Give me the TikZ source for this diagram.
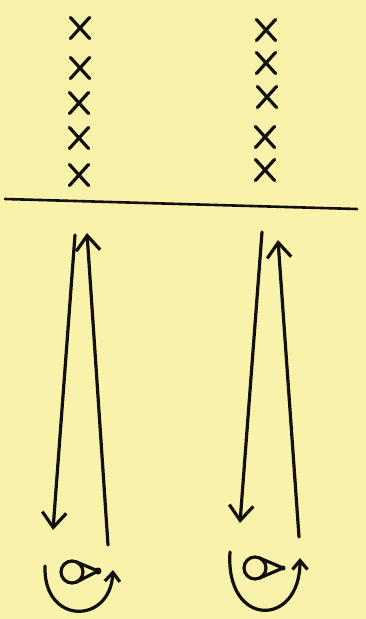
\documentclass[tikz,border=0pt]{standalone}
\usetikzlibrary{arrows.meta,shapes.misc,calc}
\definecolor{paper}{RGB}{249,242,170}
\definecolor{ink}{RGB}{18,16,12}
\begin{document}
\begin{tikzpicture}[x=1pt,y=-1pt,
  pen/.style={draw=ink,line width=3.2pt,line cap=round,line join=round},
  xmark/.style={cross out,draw=ink,line width=3.2pt,line cap=round,minimum width=16pt,minimum height=18pt,inner sep=0pt},
  barb/.style={-{Straight Barb[length=15pt,width=24pt,line width=3.2pt]}},
  arcbarb/.style={-{Straight Barb[length=9pt,width=15pt,line width=3.2pt]}}]
\fill[paper] (0,0) rectangle (366,619);
\useasboundingbox (0,0) rectangle (366,619);
% crosses, left column
\node[xmark] (l1) at (80,28) {};
\node[xmark] (l2) at (80,68) {};
\node[xmark] (l3) at (79,103) {};
\node[xmark] (l4) at (79,138) {};
\node[xmark] (l5) at (79,175) {};
% crosses, right column
\node[xmark] (r1) at (266,30) {};
\node[xmark] (r2) at (266,63) {};
\node[xmark] (r3) at (267,97) {};
\node[xmark] (r4) at (265,137) {};
\node[xmark] (r5) at (265,170) {};
% horizontal line
\coordinate (hl) at (5,199);
\coordinate (hr) at (357,209);
\draw[pen,line width=2.6pt] (hl) -- (hr);
% left pair of arrows
\coordinate (ldt) at (75,235);
\coordinate (ldb) at (53,530);
\coordinate (lub) at (108,545);
\coordinate (lut) at (87,233);
\draw[pen,barb] (ldt) -- (ldb);
\draw[pen,barb] (lub) -- (lut);
% right pair of arrows
\coordinate (rdt) at (262,232);
\coordinate (rdb) at (240,523);
\coordinate (rub) at (299,537);
\coordinate (rut) at (278,240);
\draw[pen,barb] (rdt) -- (rdb);
\draw[pen,barb] (rub) -- (rut);
% left eye
\coordinate (le) at (72,572);
\coordinate (let) at (98,571);
\draw[pen] (le) circle[radius=11];
\draw[pen] (let) -- ($(le)+(65:11)$);
\draw[pen] (let) -- ($(le)+(-65:11)$);
\fill[ink] (let) circle[radius=3.5];
\coordinate (las) at (45,566);
\coordinate (lae) at (113,570);
\draw[pen,arcbarb] (las) .. controls (43,625) and (110,625) .. (lae);
% right eye
\coordinate (re) at (255,568);
\coordinate (ret) at (283,568);
\draw[pen] (re) circle[radius=11];
\draw[pen] (ret) -- ($(re)+(65:11)$);
\draw[pen] (ret) -- ($(re)+(-65:11)$);
\fill[ink] (ret) circle[radius=2.5];
\coordinate (ras) at (230,552);
\coordinate (rae) at (300,558);
\draw[pen,arcbarb] (ras) .. controls (225,628) and (300,628) .. (rae);
\end{tikzpicture}
\end{document}
